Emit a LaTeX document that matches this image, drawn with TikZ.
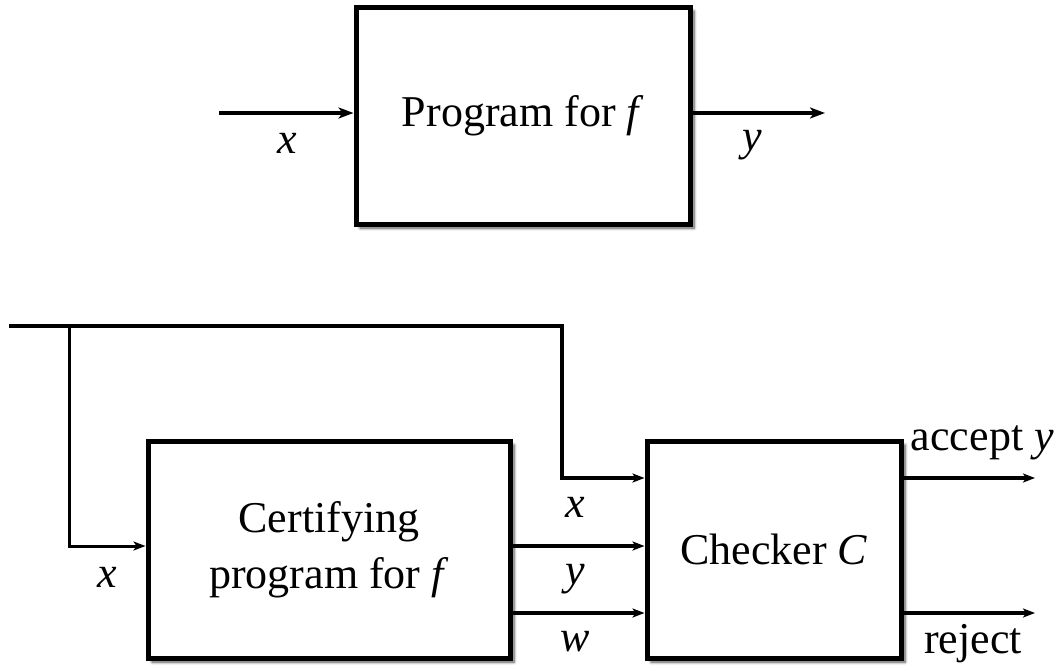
\documentclass[tikz,border=0pt]{standalone}
\usepackage{fontspec}
\setmainfont{Liberation Serif}
\usetikzlibrary{arrows.meta,shadows.blur}
\begin{document}
\begin{tikzpicture}[x=1pt,y=-1pt,
  blk/.style={draw, line width=5pt, fill=white, inner sep=0pt, align=center,
    font=\fontsize{44}{52}\selectfont,
    blur shadow={shadow xshift=4pt, shadow yshift=-4pt, shadow blur steps=6, shadow blur radius=3pt, shadow opacity=70}},
  lbl/.style={inner sep=0pt, font=\fontsize{44}{52}\selectfont},
  thickarr/.style={line width=4.5pt, -{Stealth[length=15pt,width=11pt,inset=4pt]}},
  arr/.style={line width=3.3pt, -{Stealth[length=12pt,width=9pt,inset=3pt]}},
  wire/.style={line width=3.3pt}]
\useasboundingbox (0,0) rectangle (1056,670);
% top
\node[blk, minimum width=334pt, minimum height=217pt] (prog) at (523,115.5) {Program for \textit{f}};
\coordinate (tin) at (219,113);
\coordinate (tout) at (825,113);
\draw[thickarr] (tin) -- (tin -| prog.west);
\draw[thickarr] (tout -| prog.east) -- (tout);
\node[lbl] (lx) at (287,143) {\textit{x}};
\node[lbl] (ly) at (752,145) {\textit{y}};
% bottom
\node[blk, minimum width=362pt, minimum height=217pt] (cert) at (329,549.5) {Certifying\\[4pt]program for \textit{f}};
\node[blk, minimum width=254pt, minimum height=217pt] (chk) at (774,549.5) {Checker \textit{C}};
\coordinate (L) at (11,326);
\coordinate (B) at (69,326);
\coordinate (V) at (562,326);
\coordinate (cx) at (562,478);
\coordinate (bx) at (69,546);
\coordinate (yy) at (0,546);
\coordinate (ww) at (0,613);
\coordinate (acc) at (1035,478);
\coordinate (rej) at (1035,613);
\draw[wire, line cap=rect] (L) -- (V);
\draw[arr] (V) -- (cx) -- (cx -| chk.west);
\draw[arr, line width=3pt] (B) -- (bx) -- (bx -| cert.west);
\draw[arr] (yy -| cert.east) -- (yy -| chk.west);
\draw[arr] (ww -| cert.east) -- (ww -| chk.west);
\draw[arr] (acc -| chk.east) -- (acc);
\draw[arr] (rej -| chk.east) -- (rej);
\node[lbl] (bx1) at (107,577) {\textit{x}};
\node[lbl] (bx2) at (575,507) {\textit{x}};
\node[lbl] (by) at (575,579) {\textit{y}};
\node[lbl] (bw) at (575,642) {\textit{w}};
\node[lbl, anchor=base east] (la) at (1054,450) {accept \textit{y}};
\node[lbl, anchor=base west] (lr) at (924,653) {reject};
\end{tikzpicture}
\end{document}
